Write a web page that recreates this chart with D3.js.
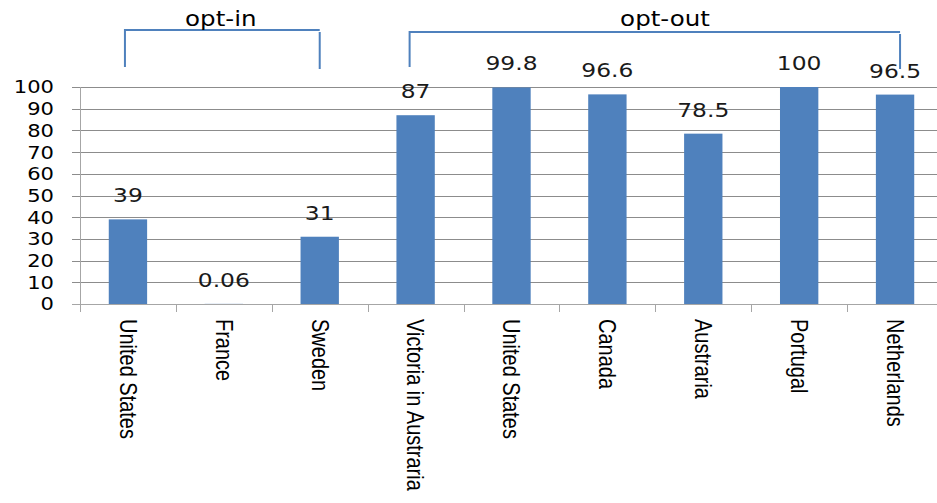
<!DOCTYPE html>
<html>
<head>
<meta charset="utf-8">
<script src="https://cdn.jsdelivr.net/npm/d3@7"></script>
<style>
  body { margin: 0; background: #fff; }
  svg { display: block; }
</style>
</head>
<body>
<div id="chart"></div>
<script>
// data
var countries = ['United States', 'France', 'Sweden', 'Victoria in Austraria', 'United States',
                 'Canada', 'Austraria', 'Portugal', 'Netherlands']
var values = [39, 0.06, 31, 87, 99.8, 96.6, 78.5, 100, 96.5]
var valueLabels = ['39', '0.06', '31', '87', '99.8', '96.6', '78.5', '100', '96.5']
var yTicks = [0, 10, 20, 30, 40, 50, 60, 70, 80, 90, 100]
var groupNames = ['opt-in', 'opt-out']
var groupFirst = [0, 3]
var groupLast = [2, 8]

var width = 937, height = 503
var barColor = '#4f81bd'
var stretch = 1.17 // the original picture is a bit wide

var svg = d3.select('#chart')
    .append('svg')
    .attr('width', width)
    .attr('height', height)

var idx = countries.map((d, i) => i)

// one slot per category, bar sits in the middle 40%
var slot = d3.scaleBand()
    .domain(idx)
    .range([80, 943])
    .padding(0)

var y = d3.scaleLinear()
    .domain([0, 100])
    .range([304, 87])

var barW = slot.bandwidth() * 0.4
var cx = i => slot(i) + slot.bandwidth() / 2

// gridlines + left tick marks
svg.selectAll('.grid')
    .data(yTicks)
    .enter()
    .append('line')
        .attr('x1', 72)
        .attr('x2', width)
        .attr('y1', d => Math.round(y(d)) + 0.5)
        .attr('y2', d => Math.round(y(d)) + 0.5)
        .style('stroke', d => d == 0 ? '#a6a6a6' : '#8c8c8c')
        .style('stroke-width', 1)

// y axis line
svg.append('line')
    .attr('x1', 80.5).attr('x2', 80.5)
    .attr('y1', y(100)).attr('y2', y(0) + 8)
    .style('stroke', '#a6a6a6')

// category tick marks between slots
svg.selectAll('.xtick')
    .data(idx.slice(1))
    .enter()
    .append('line')
        .attr('x1', d => Math.round(slot(d)) + 0.5)
        .attr('x2', d => Math.round(slot(d)) + 0.5)
        .attr('y1', y(0))
        .attr('y2', y(0) + 8)
        .style('stroke', '#a6a6a6')

// y tick labels
svg.selectAll('.ylab')
    .data(yTicks)
    .enter()
    .append('text')
        .attr('transform', d => 'translate(54,' + y(d) + ') scale(' + stretch + ',1)')
        .attr('text-anchor', 'end')
        .attr('dy', '0.36em')
        .style('font-family', 'DejaVu Sans')
        .style('font-size', '18px')
        .style('fill', '#000')
        .text(d => d)

// bars
svg.selectAll('.bar')
    .data(values)
    .enter()
    .append('rect')
        .attr('x', (d, i) => cx(i) - barW / 2)
        .attr('y', d => y(d))
        .attr('width', barW)
        .attr('height', d => y(0) - y(d))
        .style('fill', barColor)

// value labels
svg.selectAll('.vlab')
    .data(values)
    .enter()
    .append('text')
        .attr('transform', (d, i) => 'translate(' + cx(i) + ',' + (y(d) - 17) + ') scale(' + stretch + ',1)')
        .attr('text-anchor', 'middle')
        .style('font-family', 'DejaVu Sans')
        .style('font-size', '20px')
        .style('fill', '#1a1a1a')
        .text((d, i) => valueLabels[i])

// rotated category labels
svg.selectAll('.xlab')
    .data(countries)
    .enter()
    .append('text')
        .attr('transform', (d, i) => 'translate(' + cx(i) + ',319) rotate(90) scale(1,' + stretch + ')')
        .attr('text-anchor', 'start')
        .attr('dy', '0.35em')
        .style('font-family', 'Liberation Sans')
        .style('font-size', '20px')
        .style('fill', '#000')
        .text(d => d)

// group brackets
var bracket = svg.selectAll('.bracket')
    .data(groupNames)
    .enter()
    .append('g')

bracket.append('path')
    .attr('d', (d, i) => {
        var x1 = cx(groupFirst[i]) - (i == 0 ? 3 : 6)
        var x2 = cx(groupLast[i]) + (i == 0 ? 0 : 5)
        var top = i == 0 ? 30 : 32
        return 'M' + x1 + ',67 V' + top + ' H' + x2 + ' M' + x2 + ',' + (top + 2) + ' V69'
    })
    .style('fill', 'none')
    .style('stroke', barColor)
    .style('stroke-width', 2)

bracket.append('text')
    .attr('transform', (d, i) => {
        var mid = i == 0 ? (cx(groupFirst[i]) + cx(groupLast[i])) / 2 - 3 : 665
        return 'translate(' + mid + ',26) scale(' + stretch + ',1)'
    })
    .attr('text-anchor', 'middle')
    .style('font-family', 'DejaVu Sans')
    .style('font-size', '21px')
    .style('fill', '#000')
    .text(d => d)
</script>
</body>
</html>
